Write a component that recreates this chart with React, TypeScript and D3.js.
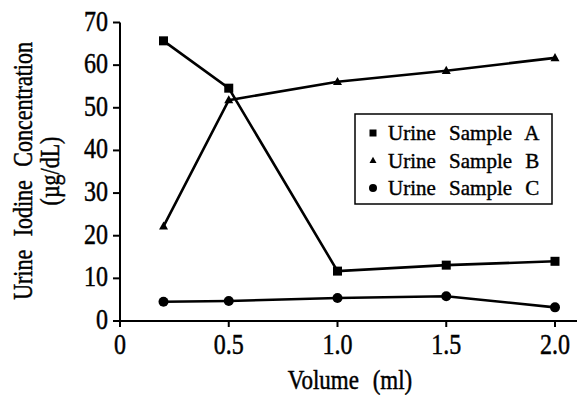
import React from "react";
import * as d3 from "d3";

const volumes = [0.2, 0.5, 1.0, 1.5, 2.0];
const sampleA = [65.7, 54.6, 11.7, 13.1, 14.0];
const sampleB = [22.2, 51.8, 56.1, 58.7, 61.7];
const sampleC = [4.5, 4.7, 5.4, 5.8, 3.2];
const seriesNames = ["Urine Sample A", "Urine Sample B", "Urine Sample C"];
const markerTypes = ["square", "triangle", "circle"];
const xTicks = [0, 0.5, 1.0, 1.5, 2.0];
const xTickLabels = ["0", "0.5", "1.0", "1.5", "2.0"];
const yTicks = [0, 10, 20, 30, 40, 50, 60, 70];

const W = 577;
const H = 395;
const FONT = "Liberation Serif, Times New Roman, Times, serif";

function Marker({ type, x, y, s }: { type: string; x: number; y: number; s: number }) {
  if (type === "square") {
    return <rect x={x - s / 2} y={y - s / 2} width={s} height={s} fill="#000" />;
  }
  if (type === "triangle") {
    const h = s * 0.9;
    return (
      <path
        d={`M${x},${y - h * 0.6} L${x + s / 2},${y + h * 0.4} L${x - s / 2},${y + h * 0.4} Z`}
        fill="#000"
      />
    );
  }
  return <circle cx={x} cy={y} r={s / 2} fill="#000" />;
}

export default function App() {
  const x = d3.scaleLinear().domain([0, 2]).range([120, 555]);
  const y = d3.scaleLinear().domain([0, 70]).range([321, 22.5]);
  const allSeries = [sampleA, sampleB, sampleC];
  const line = d3
    .line<number>()
    .x((_, i) => x(volumes[i]))
    .y((d) => y(d));
  const markerSizes = [9, 9, 10];
  const textStyle = { fontFamily: FONT };
  const ts = { stroke: "#000", strokeWidth: 0.4 };

  return (
    <svg
      width={W}
      height={H}
      style={{ position: "absolute", left: 0, top: 0, background: "#fff", fontFamily: FONT }}
    >
      <rect x={0} y={0} width={W} height={H} fill="#fff" />
      {/* axes */}
      <line x1={120} x2={120} y1={y(70)} y2={327} stroke="#000" strokeWidth={2} />
      <line x1={115} x2={577} y1={y(0)} y2={y(0)} stroke="#000" strokeWidth={2} />
      {yTicks.map((t) => (
        <g key={"y" + t}>
          <line x1={113} x2={120} y1={y(t)} y2={y(t)} stroke="#000" strokeWidth={2} />
          <text
            transform={`translate(108,${y(t) + 8}) scale(1,1.2)`}
            textAnchor="end"
            fontSize={24}
            fill="#000"
            {...ts}
            style={textStyle}
          >
            {t}
          </text>
        </g>
      ))}
      {xTicks.map((t, i) => (
        <g key={"x" + t}>
          <line x1={x(t)} x2={x(t)} y1={y(0)} y2={y(0) + 6} stroke="#000" strokeWidth={2} />
          <text
            transform={`translate(${x(t)},${354}) scale(1,1.2)`}
            textAnchor="middle"
            fontSize={24}
            fill="#000"
            {...ts}
            style={textStyle}
          >
            {xTickLabels[i]}
          </text>
        </g>
      ))}
      {/* axis titles */}
      <text
        transform={`translate(350,389) scale(1,1.2)`}
        textAnchor="middle"
        fontSize={23}
        wordSpacing={8}
        fill="#000"
        {...ts}
        style={textStyle}
      >
        Volume (ml)
      </text>
      <text
        transform={`translate(32,171) rotate(-90) scale(1,1.2)`}
        textAnchor="middle"
        fontSize={22}
        wordSpacing={8}
        fill="#000"
        {...ts}
        style={textStyle}
      >
        Urine Iodine Concentration
      </text>
      <text
        transform={`translate(59,171) rotate(-90) scale(1,1.2)`}
        textAnchor="middle"
        fontSize={22}
        fill="#000"
        {...ts}
        style={textStyle}
      >
        (µg/dL)
      </text>
      {/* series */}
      {allSeries.map((s, si) => (
        <g key={"s" + si}>
          <path d={line(s) || ""} fill="none" stroke="#000" strokeWidth={2.6} />
          {s.map((v, i) => (
            <Marker
              key={i}
              type={markerTypes[si]}
              x={x(volumes[i])}
              y={y(v)}
              s={markerSizes[si]}
            />
          ))}
        </g>
      ))}
      {/* legend */}
      <rect x={355} y={114} width={197} height={90} fill="#fff" stroke="#000" strokeWidth={1.5} />
      {seriesNames.map((n, i) => (
        <g key={n}>
          <Marker type={markerTypes[i]} x={373} y={133 + i * 27.5} s={i === 2 ? 8 : 7} />
          <text
            x={388}
            y={140 + i * 27.5}
            fontSize={21}
            wordSpacing={8}
            fill="#000"
            {...ts}
            style={textStyle}
          >
            {n}
          </text>
        </g>
      ))}
    </svg>
  );
}
